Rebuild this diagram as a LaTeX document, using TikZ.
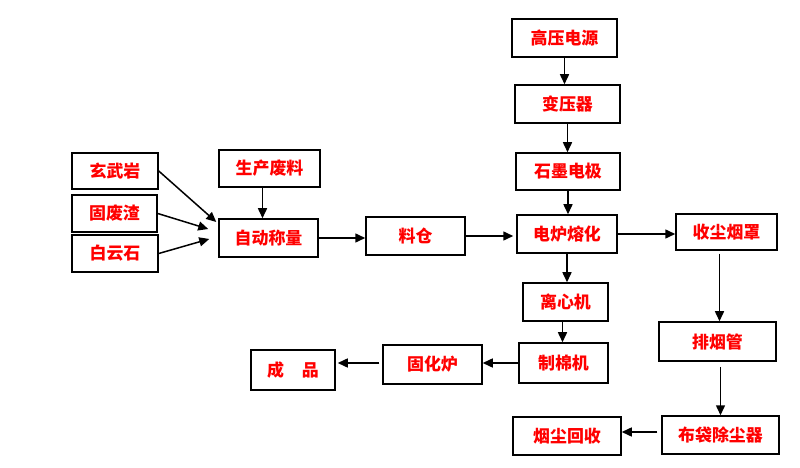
\documentclass[tikz,border=0pt]{standalone}
\usepackage{fontspec}
\newfontfamily\cjk{Noto Sans CJK SC}
\definecolor{LabelRed}{RGB}{255,0,0}
\usepackage{tikz}
\usetikzlibrary{positioning, arrows.meta, calc}

\tikzset{
  box/.style={draw, line width=1.5bp, minimum width=#1, inner sep=0pt,
    font=\cjk\bfseries\fontsize{17}{19}\selectfont, text=LabelRed},
  box/.default=100bp,
  flow/.style={line width=1.5bp, -{Triangle[length=10bp,width=9bp]}}
}

\begin{document}
\begin{tikzpicture}[x=1bp, y=-1bp]
          \useasboundingbox (0,0) rectangle (800,468);
          \node[box=105bp, minimum height=38bp] (gydy) at (564.5,38) {高压电源};
          \node[box=105bp, minimum height=38bp] (byq) at (567.5,104) {变压器};
          \node[box=104bp, minimum height=37bp] (smdj) at (568,171.5) {石墨电极};
          \node[box=100bp, minimum height=38bp] (dlrh) at (567,234) {电炉熔化};
          \node[box=101bp, minimum height=36bp] (scyz) at (726.5,232) {收尘烟罩};
          \node[box=86bp, minimum height=36bp] (xwy) at (115,171) {玄武岩};
          \node[box=85bp, minimum height=37bp] (gfz) at (114.5,213.5) {固废渣};
          \node[box=86bp, minimum height=37bp] (byx) at (115,253.5) {白云石};
          \node[box=101bp, minimum height=37bp] (scfl) at (269.5,168.5) {生产废料};
          \node[box=99bp, minimum height=38bp] (zdcl) at (268.5,238) {自动称量};
          \node[box=99bp, minimum height=38bp] (lc) at (415.5,236) {料仓};
          \node[box=85bp, minimum height=38bp] (lxj) at (565.5,302) {离心机};
          \node[box=89bp, minimum height=40bp] (zmj) at (563.5,363) {制棉机};
          \node[box=99bp, minimum height=39bp] (ghl) at (432.5,364.5) {固化炉};
          \node[box=84bp, minimum height=40bp] (cp) at (293,370) {成\hspace{18bp}品};
          \node[box=117bp, minimum height=39bp] (pyg) at (717.5,341.5) {排烟管};
          \node[box=117bp, minimum height=38bp] (bdcc) at (720.5,435) {布袋除尘器};
          \node[box=108bp, minimum height=38bp] (ychs) at (567,436) {烟尘回收};

          \coordinate (lxjout) at ($(lxj.south)+(-3,0)$);
          \coordinate (scflout) at ($(scfl.south)+(-7,0)$);
          \coordinate (scyzout) at ($(scyz.south)+(-7,3)$);
          \coordinate (pygout) at ($(pyg.south)+(3,5)$);
          \coordinate (bdccout) at ($(bdcc.west)+(-4,-3)$);
          \coordinate (ghlout) at ($(ghl.west)+(-3,-1.5)$);

          \draw[flow] (gydy.south) -- (gydy.south |- byq.north);
          \draw[flow] (byq.south) -- (byq.south |- smdj.north);
          \draw[flow] (smdj.south) -- (smdj.south |- dlrh.north);
          \draw[flow] (dlrh.south) -- (dlrh.south |- lxj.north);
          \draw[flow] (lxjout) -- (lxjout |- zmj.north);
          \draw[flow] (xwy.east) -- ($(zdcl.west)+(-2,-16)$);
          \draw[flow] (gfz.east) -- ($(zdcl.west)+(-10,-9)$);
          \draw[flow] (byx.east) -- ($(zdcl.west)+(-9,1)$);
          \draw[flow] (scflout) -- (scflout |- zdcl.north);
          \draw[flow] (zdcl.east) -- (zdcl.east -| lc.west);
          \draw[flow] (lc.east) -- ($(lc.east -| dlrh.west)+(-3,0)$);
          \draw[flow] (dlrh.east) -- (dlrh.east -| scyz.west);
          \draw[flow] (scyzout) -- (scyzout |- pyg.north);
          \draw[flow] (pygout) -- (pygout |- bdcc.north);
          \draw[flow] (bdccout) -- (bdccout -| ychs.east);
          \draw[flow] (zmj.west) -- (zmj.west -| ghl.east);
          \draw[flow] (ghlout) -- ($(ghlout -| cp.east)+(2,0)$);
        \end{tikzpicture}
\end{document}
